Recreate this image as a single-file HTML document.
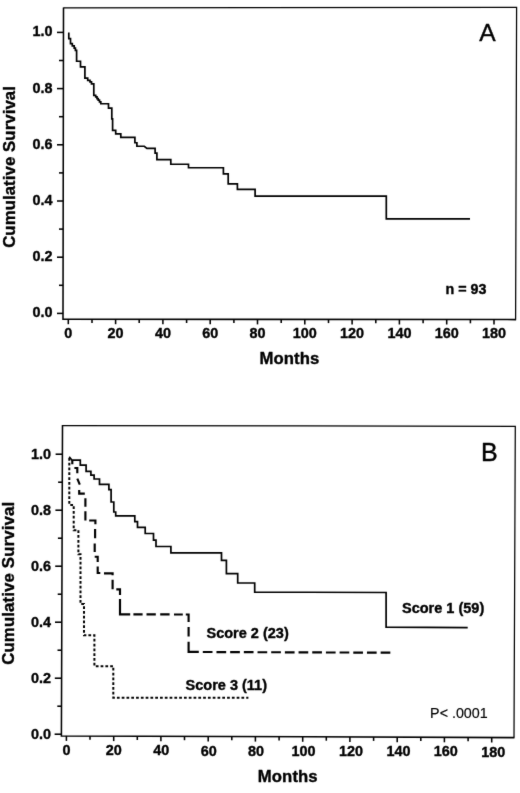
<!DOCTYPE html>
<html><head><meta charset="utf-8"><title>Survival curves</title>
<style>
html,body{margin:0;padding:0;background:#fff;}
body{width:520px;height:793px;overflow:hidden;font-family:"Liberation Sans",sans-serif;}
svg{display:block;}
text{font-family:"Liberation Sans",sans-serif;fill:#000;stroke:#000;stroke-width:0.38px;stroke-linejoin:round;}
.thin{stroke-width:0.15px;}
.pl{stroke-width:0.4px;}
.b{font-weight:bold;}
.tk{font-size:15px;font-weight:bold;}
.ax{font-size:16.7px;font-weight:bold;}
.sc{font-size:14.5px;font-weight:bold;}
.pl{font-size:25px;}
</style></head><body>
<svg width="520" height="793" viewBox="0 0 520 793">
<defs><filter id="soft" x="0" y="0" width="520" height="793" filterUnits="userSpaceOnUse" color-interpolation-filters="sRGB"><feConvolveMatrix order="3" kernelMatrix="0.015 0.06 0.015 0.06 0.7 0.06 0.015 0.06 0.015" divisor="1" edgeMode="duplicate" preserveAlpha="false"/></filter></defs>
<rect width="520" height="793" fill="#fff"/>
<g filter="url(#soft)">

<g id="chartA" stroke="#000" fill="none" stroke-linecap="butt">
<path d="M63.5,7.9 L516.6,7.4 L515.6,319.6" stroke-width="1.25" stroke="#000"/>
<path d="M63.5,7.4 L63.0,319.2 L516.1,319.6" stroke-width="1.55" stroke-linejoin="miter"/>
<g stroke-width="1.55">
<line x1="57.0" y1="32.4" x2="63.2" y2="32.4"/>
<line x1="57.0" y1="88.6" x2="63.2" y2="88.6"/>
<line x1="57.0" y1="144.8" x2="63.2" y2="144.8"/>
<line x1="57.0" y1="201.0" x2="63.2" y2="201.0"/>
<line x1="57.0" y1="257.2" x2="63.2" y2="257.2"/>
<line x1="57.0" y1="313.4" x2="63.2" y2="313.4"/>
<line x1="59.0" y1="60.5" x2="63.2" y2="60.5"/>
<line x1="59.0" y1="116.7" x2="63.2" y2="116.7"/>
<line x1="59.0" y1="172.9" x2="63.2" y2="172.9"/>
<line x1="59.0" y1="229.1" x2="63.2" y2="229.1"/>
<line x1="59.0" y1="285.3" x2="63.2" y2="285.3"/>
<line x1="68.3" y1="319.2" x2="68.3" y2="324.2"/>
<line x1="92.0" y1="319.2" x2="92.0" y2="322.9"/>
<line x1="115.6" y1="319.2" x2="115.6" y2="324.2"/>
<line x1="139.2" y1="319.3" x2="139.2" y2="323.0"/>
<line x1="162.9" y1="319.3" x2="162.9" y2="324.3"/>
<line x1="186.6" y1="319.3" x2="186.6" y2="323.0"/>
<line x1="210.2" y1="319.3" x2="210.2" y2="324.3"/>
<line x1="233.9" y1="319.4" x2="233.9" y2="323.1"/>
<line x1="257.5" y1="319.4" x2="257.5" y2="324.4"/>
<line x1="281.2" y1="319.4" x2="281.2" y2="323.1"/>
<line x1="304.8" y1="319.4" x2="304.8" y2="324.4"/>
<line x1="328.5" y1="319.4" x2="328.5" y2="323.1"/>
<line x1="352.1" y1="319.5" x2="352.1" y2="324.5"/>
<line x1="375.8" y1="319.5" x2="375.8" y2="323.2"/>
<line x1="399.4" y1="319.5" x2="399.4" y2="324.5"/>
<line x1="423.1" y1="319.5" x2="423.1" y2="323.2"/>
<line x1="446.7" y1="319.5" x2="446.7" y2="324.5"/>
<line x1="470.4" y1="319.6" x2="470.4" y2="323.3"/>
<line x1="494.0" y1="319.6" x2="494.0" y2="324.6"/>
</g>
<path transform="translate(0,0.45)" d="M68.8,32 V38.2 H70.5 V43.1 H72.3 V45.4 H74.2 V47.7 H75.4 V50 H76.6 V60.8 H80.5 V66.5 H84.9 V77.7 H87.7 V80 H90 V81.5 H91.5 V83.4 H93.8 V94.9 H95.7 V96.5 H97 V98.2 H98.2 V99.7 H99.5 V101.5 H100.8 V103.3 H108.5 V107.7 H111.8 V118.5 H112.6 V130 H115.7 V133.4 H120.8 V136.9 H134.9 V142.3 H136.9 V145.8 H144.3 L146.9,148 H155.1 V152.6 H156.9 V159.2 H170.8 V163.8 H188.5 V167.3 H223.4 V173.5 H228.2 V183.4 H237.4 V188.9 H255.1 V195.6 H386.3 V218.4 H470" stroke-width="1.7" stroke-linejoin="miter"/>
</g>
<text class="tk" transform="translate(52.5,36.3) scale(0.96,1)" text-anchor="end">1.0</text>
<text class="tk" transform="translate(52.5,92.5) scale(0.96,1)" text-anchor="end">0.8</text>
<text class="tk" transform="translate(52.5,148.7) scale(0.96,1)" text-anchor="end">0.6</text>
<text class="tk" transform="translate(52.5,204.9) scale(0.96,1)" text-anchor="end">0.4</text>
<text class="tk" transform="translate(52.5,261.1) scale(0.96,1)" text-anchor="end">0.2</text>
<text class="tk" transform="translate(52.5,317.3) scale(0.96,1)" text-anchor="end">0.0</text>
<text class="tk" transform="translate(68.3,337.7) scale(0.96,1)" text-anchor="middle">0</text>
<text class="tk" transform="translate(115.6,337.7) scale(0.96,1)" text-anchor="middle">20</text>
<text class="tk" transform="translate(162.9,337.7) scale(0.96,1)" text-anchor="middle">40</text>
<text class="tk" transform="translate(210.2,337.7) scale(0.96,1)" text-anchor="middle">60</text>
<text class="tk" transform="translate(257.5,337.7) scale(0.96,1)" text-anchor="middle">80</text>
<text class="tk" transform="translate(304.8,337.7) scale(0.96,1)" text-anchor="middle">100</text>
<text class="tk" transform="translate(352.1,337.7) scale(0.96,1)" text-anchor="middle">120</text>
<text class="tk" transform="translate(399.4,337.7) scale(0.96,1)" text-anchor="middle">140</text>
<text class="tk" transform="translate(446.7,337.7) scale(0.96,1)" text-anchor="middle">160</text>
<text class="tk" transform="translate(494.0,337.7) scale(0.96,1)" text-anchor="middle">180</text>
<text class="ax" x="289.4" y="363.5" text-anchor="middle" style="letter-spacing:0.08px">Months</text>
<text class="ax" transform="translate(15.4,166.9) rotate(-90)" style="font-size:16.7px;letter-spacing:0.12px" text-anchor="middle">Cumulative Survival</text>
<text class="b" font-size="14.3" x="445.6" y="293.7">n = 93</text>
<text class="pl" x="479.2" y="41.3" style="font-size:24.6px">A</text>
<g id="chartB" stroke="#000" fill="none" stroke-linecap="butt">
<path d="M62.5,425.5 L515.3,426.4 L514.0,737.6" stroke-width="1.25" stroke="#000"/>
<path d="M62.5,425.0 L61.4,735.9 L514.5,737.6" stroke-width="1.55" stroke-linejoin="miter"/>
<g stroke-width="1.55">
<line x1="55.6" y1="454.2" x2="62.4" y2="454.2"/>
<line x1="55.4" y1="510.2" x2="62.2" y2="510.2"/>
<line x1="55.2" y1="566.2" x2="62.0" y2="566.2"/>
<line x1="55.0" y1="622.2" x2="61.8" y2="622.2"/>
<line x1="54.8" y1="678.2" x2="61.6" y2="678.2"/>
<line x1="54.6" y1="734.2" x2="61.4" y2="734.2"/>
<line x1="58.1" y1="482.2" x2="62.3" y2="482.2"/>
<line x1="57.9" y1="538.2" x2="62.1" y2="538.2"/>
<line x1="57.7" y1="594.2" x2="61.9" y2="594.2"/>
<line x1="57.5" y1="650.2" x2="61.7" y2="650.2"/>
<line x1="57.3" y1="706.2" x2="61.5" y2="706.2"/>
<line x1="66.4" y1="735.9" x2="66.4" y2="740.9"/>
<line x1="90.0" y1="736.0" x2="90.0" y2="739.8"/>
<line x1="113.7" y1="736.1" x2="113.7" y2="741.1"/>
<line x1="137.3" y1="736.2" x2="137.3" y2="740.0"/>
<line x1="160.9" y1="736.3" x2="160.9" y2="741.3"/>
<line x1="184.5" y1="736.4" x2="184.5" y2="740.2"/>
<line x1="208.2" y1="736.5" x2="208.2" y2="741.5"/>
<line x1="231.8" y1="736.5" x2="231.8" y2="740.3"/>
<line x1="255.4" y1="736.6" x2="255.4" y2="741.6"/>
<line x1="279.1" y1="736.7" x2="279.1" y2="740.5"/>
<line x1="302.7" y1="736.8" x2="302.7" y2="741.8"/>
<line x1="326.3" y1="736.9" x2="326.3" y2="740.7"/>
<line x1="349.9" y1="737.0" x2="349.9" y2="742.0"/>
<line x1="373.6" y1="737.1" x2="373.6" y2="740.9"/>
<line x1="397.2" y1="737.2" x2="397.2" y2="742.2"/>
<line x1="420.8" y1="737.3" x2="420.8" y2="741.1"/>
<line x1="444.4" y1="737.3" x2="444.4" y2="742.3"/>
<line x1="468.1" y1="737.4" x2="468.1" y2="741.2"/>
<line x1="491.7" y1="737.5" x2="491.7" y2="742.5"/>
</g>
<g transform="translate(0,0.5)"><path d="M69.2,456.2 L72,459.7 H80.3 V464.6 H86.1 V470.8 H90.9 V474.6 H94.1 V478.5 H99.5 V483.8 H108.9 V489.2 H111.1 V501.5 H113.8 V511.5 H115.7 V515.4 H134.8 V521.2 H137.5 V526.8 H145.2 V533 H153.5 V539.7 H156 V546 H170.9 V552.4 H221.5 V559.8 H226.4 V573.1 H237.7 V582.5 H254.7 V591.6 L386.1,592.0 V626.6 L467.7,627.2" stroke-width="1.7" stroke-linejoin="miter"/>
<path d="M72.3,459.7 V463.8 M74.4,467.5 H77.3 V472.8 M77.3,478.2 L79.8,484.2 M79.2,489.5 V493.1 H84.8 M85.4,497.7 V506.2 M85.4,510.8 V520 M89.2,520 H95.4 V523.8 M95.1,528.5 V537.7 M94.7,543 V551.5 M94.7,556.2 H97.7 V561.5 M97.7,566 V572.5 H100.3 M104,572.8 H112.6 V574.8 M112.6,579.2 V588.8 M116.3,588.8 H120 V594.6 M120,598.5 V613.8 H130.2 M133.4,613.8 H142.6 M146.5,613.8 H155.8 M160.2,613.9 H169.6 M174,614 H182.8 M185.8,614 H188.6 V621.4 M188.6,626.4 V636 M188.6,641.2 V651.4 H198.8" stroke-width="2.15" stroke-linejoin="miter"/>
<path d="M202.8,651.5 L391.6,652.2" stroke-width="2.15" stroke-dasharray="9.7 3.98"/>
<path d="M69.3,457.5 V504.4 H73.7 V529.8 H78.4 V553.8 H80.5 V603.6 H84 V634.8 H94.4 V665.7 H113.3 V697.3 H248.4" stroke-width="2.0" stroke-dasharray="2.75 2.04"/></g>
</g>
<text class="tk" transform="translate(50.9,459.3) scale(0.96,1)" text-anchor="end">1.0</text>
<text class="tk" transform="translate(50.9,515.3) scale(0.96,1)" text-anchor="end">0.8</text>
<text class="tk" transform="translate(50.9,571.3) scale(0.96,1)" text-anchor="end">0.6</text>
<text class="tk" transform="translate(50.9,627.3) scale(0.96,1)" text-anchor="end">0.4</text>
<text class="tk" transform="translate(50.9,683.3) scale(0.96,1)" text-anchor="end">0.2</text>
<text class="tk" transform="translate(50.9,739.3) scale(0.96,1)" text-anchor="end">0.0</text>
<text class="tk" transform="translate(66.4,755.0) scale(0.96,1)" text-anchor="middle">0</text>
<text class="tk" transform="translate(113.8,755.2) scale(0.96,1)" text-anchor="middle">20</text>
<text class="tk" transform="translate(161.3,755.4) scale(0.96,1)" text-anchor="middle">40</text>
<text class="tk" transform="translate(208.7,755.6) scale(0.96,1)" text-anchor="middle">60</text>
<text class="tk" transform="translate(256.1,755.7) scale(0.96,1)" text-anchor="middle">80</text>
<text class="tk" transform="translate(303.5,755.9) scale(0.96,1)" text-anchor="middle">100</text>
<text class="tk" transform="translate(351.0,756.1) scale(0.96,1)" text-anchor="middle">120</text>
<text class="tk" transform="translate(398.4,756.3) scale(0.96,1)" text-anchor="middle">140</text>
<text class="tk" transform="translate(445.8,756.4) scale(0.96,1)" text-anchor="middle">160</text>
<text class="tk" transform="translate(493.2,756.6) scale(0.96,1)" text-anchor="middle">180</text>
<text class="ax" x="287.8" y="782.2" text-anchor="middle" style="letter-spacing:0.1px">Months</text>
<text class="ax" transform="translate(13.9,583.3) rotate(-90)" style="font-size:16.8px;letter-spacing:0.14px" text-anchor="middle">Cumulative Survival</text>
<text class="thin" font-size="14.3" x="430.1" y="717.5">P&lt; .0001</text>
<text class="pl" x="481.1" y="461.4">B</text>
<text class="sc" x="402" y="613">Score 1 (59)</text>
<text class="sc" x="206.5" y="638.4">Score 2 (23)</text>
<text class="sc" x="185.6" y="690.1">Score 3 (11)</text>
</g></svg></body></html>
